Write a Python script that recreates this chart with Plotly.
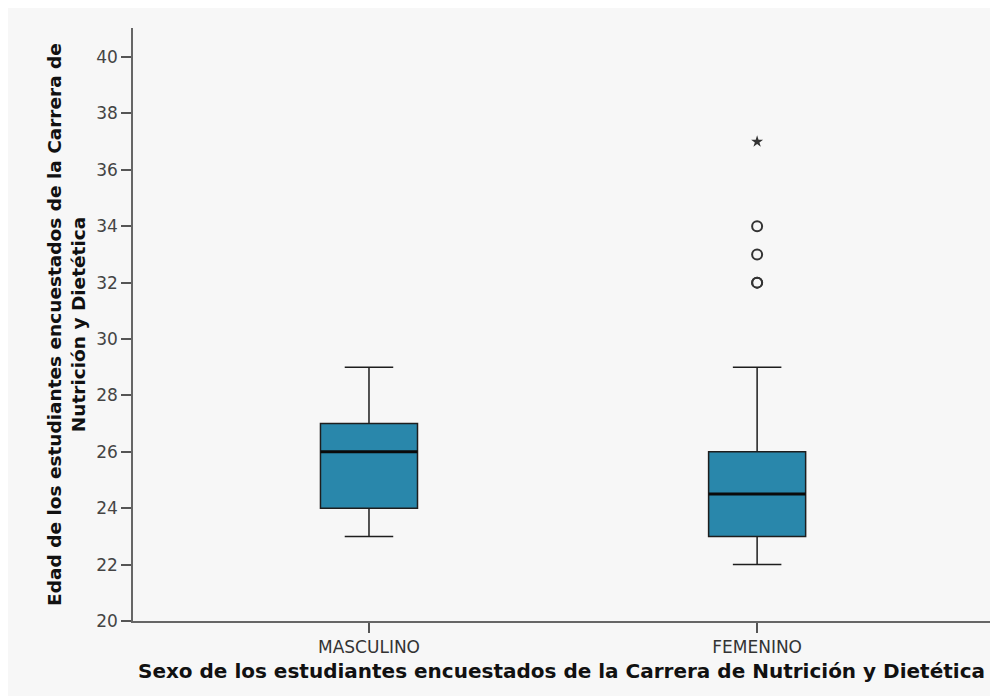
import plotly.graph_objects as go

categories = ["MASCULINO", "FEMENINO"]
lower_whisker = [23, 22]
q1 = [24, 23]
median = [26, 24.5]
q3 = [27, 26]
upper_whisker = [29, 29]
outliers_fem = [32, 32, 33, 34]
extremes_fem = [37]
y_ticks = [20, 22, 24, 26, 28, 30, 32, 34, 36, 38, 40]

x_pos = list(range(len(categories)))
box_w = 0.25
fill = "#2987ab"
edge = "#1e1e1e"

fig = go.Figure()
for i, c in enumerate(categories):
    fig.add_trace(go.Box(
        x=[x_pos[i]], q1=[q1[i]], median=[median[i]], q3=[q3[i]],
        lowerfence=[lower_whisker[i]], upperfence=[upper_whisker[i]],
        width=box_w, whiskerwidth=0.5, fillcolor=fill,
        line=dict(color=edge, width=1.5), boxpoints=False, showlegend=False,
        hoverinfo="skip", name=c))
    # thicker median line
    fig.add_trace(go.Scatter(
        x=[x_pos[i] - box_w / 2, x_pos[i] + box_w / 2], y=[median[i], median[i]],
        mode="lines", line=dict(color="#0a0a0a", width=3), showlegend=False,
        hoverinfo="skip"))

fig.add_trace(go.Scatter(
    x=[x_pos[1]] * len(outliers_fem), y=outliers_fem, mode="markers",
    marker=dict(symbol="circle-open", size=10, color="#333333", line=dict(width=2)),
    showlegend=False, hoverinfo="skip"))
fig.add_trace(go.Scatter(
    x=[x_pos[1]] * len(extremes_fem), y=extremes_fem, mode="markers",
    marker=dict(symbol="star", size=9, color="#333333"),
    showlegend=False, hoverinfo="skip"))

W, H = 998, 696
L, R, T, B = 125, 16, 20, 83

fig.update_layout(
    width=W, height=H,
    margin=dict(l=L, r=R, t=T, b=B, pad=0),
    paper_bgcolor="#f7f7f7", plot_bgcolor="#f7f7f7",
    font=dict(family="DejaVu Sans, Arial, sans-serif", color="#333333", size=14),
    xaxis=dict(range=[-0.608, 1.6], tickvals=x_pos, ticktext=categories,
               showgrid=False, zeroline=False, showline=True, linecolor="#666666",
               linewidth=1.5, ticks="outside", ticklen=10, tickwidth=1.5,
               tickcolor="#555555",
               tickfont=dict(size=17, color="#333333",
                             family="DejaVu Sans, Arial, sans-serif"),
               title=dict(text="<b>Sexo de los estudiantes encuestados de la Carrera de Nutrición y Dietética</b>",
                          font=dict(size=20, color="#111111", family="DejaVu Sans, Arial, sans-serif"),
                          standoff=8)),
    yaxis=dict(range=[20, 41.03], tickvals=y_ticks, showgrid=False, zeroline=False,
               showline=True, linecolor="#666666", linewidth=1.5, ticks="outside",
               ticklen=10, tickwidth=1.5, tickcolor="#555555",
               tickfont=dict(size=17, color="#444444", family="DejaVu Sans, Arial, sans-serif"),
               title=dict(text="<b>Edad de los estudiantes encuestados de la Carrera de<br>Nutrición y Dietética</b>",
                          font=dict(size=18.5, color="#111111", family="DejaVu Sans, Arial, sans-serif"),
                          standoff=6)),
)

fig.write_html("out.html")
